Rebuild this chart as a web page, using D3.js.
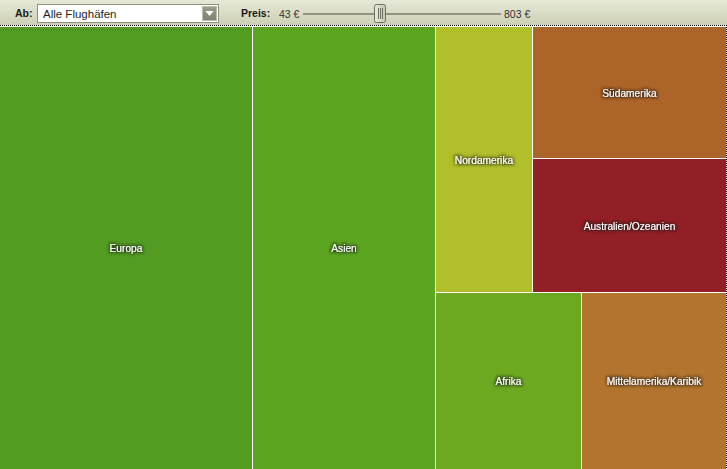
<!DOCTYPE html>
<html><head><meta charset="utf-8">
<script src="https://cdn.jsdelivr.net/npm/d3@7"></script>
<style>
html,body{margin:0;padding:0;background:#fff;overflow:hidden}
svg{display:block;font-family:"Liberation Sans",Arial,Helvetica,sans-serif}
</style></head><body>
<svg id="chart" width="727" height="469"></svg>
<script>
// ---- data ----
const regions = ["Europa","Asien","Nordamerika","Südamerika","Australien/Ozeanien","Afrika","Mittelamerika/Karibik"];
const offers  = [3480, 2520, 805, 796, 804, 803, 798];
const palette = ["#529c22","#5ca520","#b1bf2a","#ad6428","#921f25","#6ca921","#b3752d"];
const airportLabel = "Alle Flughäfen";
const priceMin = 43, priceMax = 803, priceSelected = 340;

const W = 727, H = 469, barH = 25, topY = 27, mapW = 726;
const svg = d3.select("#chart");
const defs = svg.append("defs");

// toolbar gradient
const g1 = defs.append("linearGradient").attr("id","bar").attr("x1",0).attr("y1",0).attr("x2",0).attr("y2",1);
g1.append("stop").attr("offset","0%").attr("stop-color","#e6e8d7");
g1.append("stop").attr("offset","100%").attr("stop-color","#cdd0b5");
const g2 = defs.append("linearGradient").attr("id","btn").attr("x1",0).attr("y1",0).attr("x2",0).attr("y2",1);
g2.append("stop").attr("offset","0%").attr("stop-color","#9c9e8c");
g2.append("stop").attr("offset","100%").attr("stop-color","#7d8070");
const g3 = defs.append("linearGradient").attr("id","thumb").attr("x1",0).attr("y1",0).attr("x2",1).attr("y2",0);
g3.append("stop").attr("offset","0%").attr("stop-color","#e9eadf");
g3.append("stop").attr("offset","100%").attr("stop-color","#c4c6b4");
const f = defs.append("filter").attr("id","glow").attr("x","-20%").attr("y","-60%").attr("width","140%").attr("height","220%");
f.append("feMorphology").attr("in","SourceAlpha").attr("operator","dilate").attr("radius",0.6).attr("result","d");
f.append("feGaussianBlur").attr("in","d").attr("stdDeviation",1.5).attr("result","b");
f.append("feFlood").attr("flood-color","#1a1a1a").attr("flood-opacity",0.75);
f.append("feComposite").attr("in2","b").attr("operator","in").attr("result","s");
const fm = f.append("feMerge");
fm.append("feMergeNode").attr("in","s");
fm.append("feMergeNode").attr("in","SourceGraphic");

// ---- toolbar ----
svg.append("rect").attr("x",0).attr("y",0).attr("width",W).attr("height",barH).attr("fill","url(#bar)");
svg.append("text").attr("x",15).attr("y",17).attr("font-size",10.5).attr("font-weight","bold").attr("fill","#1a1a1a").text("Ab:");
svg.append("rect").attr("x",37.5).attr("y",4.5).attr("width",181).attr("height",18).attr("fill","#fff").attr("stroke","#8f917f");
svg.append("text").attr("x",43).attr("y",18).attr("font-size",11.5).attr("fill","#1e1e1e").text(airportLabel);
svg.append("rect").attr("x",202.5).attr("y",6.5).attr("width",14).attr("height",14).attr("fill","url(#btn)").attr("stroke","#b9bbab");
svg.append("path").attr("d","M205.5,11 L213.5,11 L209.5,16 Z").attr("fill","#fff");

svg.append("text").attr("x",241).attr("y",17).attr("font-size",10.5).attr("font-weight","bold").attr("fill","#1a1a1a").text("Preis:");
svg.append("text").attr("x",279).attr("y",18).attr("font-size",10.5).attr("fill","#333").text(priceMin + " €");
svg.append("text").attr("x",504).attr("y",18).attr("font-size",10.5).attr("fill","#333").text(priceMax + " €");
const sx = d3.scaleLinear().domain([priceMin, priceMax]).range([303, 501]);
svg.append("line").attr("x1",sx(priceMin)).attr("x2",sx(priceMax)).attr("y1",14).attr("y2",14).attr("stroke","#7b7d6a").attr("stroke-width",1.5);
const tx = Math.round(sx(priceSelected));
svg.append("rect").attr("x",tx-5.5).attr("y",4.5).attr("width",11).attr("height",18).attr("rx",2).attr("fill","url(#thumb)").attr("stroke","#6f7160");
[-2,0,2].forEach(d => svg.append("line").attr("x1",tx+d+0.5).attr("x2",tx+d+0.5).attr("y1",8).attr("y2",19).attr("stroke","#6f7160").attr("stroke-width",1));

// ---- treemap ----
function tileBinary(parent, x0, y0, x1, y1) {
  const nodes = parent.children, n = nodes.length;
  const sums = [0];
  for (let i = 0; i < n; i++) sums.push(sums[i] + nodes[i].value);
  function partition(i, j, value, x0, y0, x1, y1) {
    if (i >= j - 1) { const nd = nodes[i]; nd.x0 = x0; nd.y0 = y0; nd.x1 = x1; nd.y1 = y1; return; }
    const off = sums[i], target = value / 2 + off;
    let k = i + 1, hi = j - 1;
    while (k < hi) { const mid = (k + hi) >>> 1; if (sums[mid] < target) k = mid + 1; else hi = mid; }
    if ((target - sums[k - 1]) < (sums[k] - target) && i + 1 < k) --k;
    const vl = sums[k] - off, vr = value - vl;
    if ((x1 - x0) > (y1 - y0) * 0.95) {
      const xk = value ? (x0 * vr + x1 * vl) / value : x1;
      partition(i, k, vl, x0, y0, xk, y1); partition(k, j, vr, xk, y0, x1, y1);
    } else {
      const yk = value ? (y0 * vr + y1 * vl) / value : y1;
      partition(i, k, vl, x0, y0, x1, yk); partition(k, j, vr, x0, yk, x1, y1);
    }
  }
  partition(0, n, parent.value, x0, y0, x1, y1);
}

const root = d3.hierarchy({children: regions.map((r, i) => ({name: r, value: offers[i], idx: i}))})
  .sum(d => d.value || 0);
d3.treemap().tile(tileBinary).size([mapW, H - topY]).paddingInner(1).round(true)(root);

const color = d3.scaleOrdinal().domain(regions).range(palette);
const gm = svg.append("g").attr("transform", `translate(0,${topY})`);
const cell = gm.selectAll("g").data(root.leaves()).join("g");
cell.append("rect")
  .attr("x", d => d.x0).attr("y", d => d.y0)
  .attr("width", d => d.x1 - d.x0).attr("height", d => d.y1 - d.y0)
  .attr("fill", d => color(d.data.name));
cell.append("text")
  .attr("x", d => (d.x0 + d.x1) / 2).attr("y", d => (d.y0 + d.y1) / 2 + 0.5)
  .attr("text-anchor","middle").attr("dominant-baseline","central")
  .attr("font-size",10.2).attr("fill","#fff").attr("filter","url(#glow)")
  .text(d => d.data.name);

// dotted focus borders
svg.append("line").attr("x1",0).attr("x2",W).attr("y1",25.5).attr("y2",25.5).attr("stroke","#000").attr("stroke-dasharray","1,1");
svg.append("line").attr("x1",726.5).attr("x2",726.5).attr("y1",25).attr("y2",H).attr("stroke","#000").attr("stroke-dasharray","1,1");
</script>
</body></html>
